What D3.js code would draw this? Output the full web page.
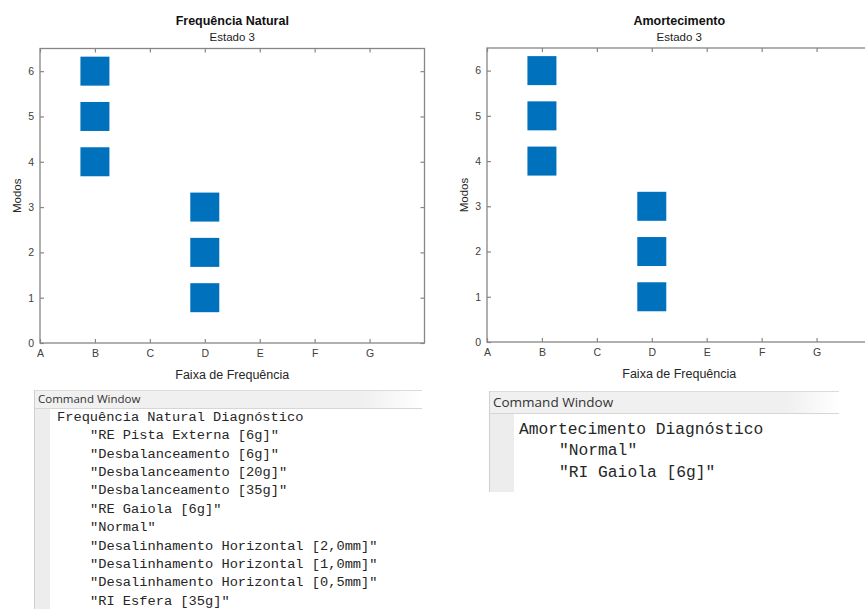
<!DOCTYPE html>
<html>
<head>
<meta charset="utf-8">
<script src="https://cdn.jsdelivr.net/npm/d3@7"></script>
<style>
  html, body { margin: 0; padding: 0; background: #ffffff; }
  svg { display: block; }
</style>
</head>
<body>
<svg id="fig" width="865" height="609"></svg>
<script>
// Frequency bands (x axis) and mode numbers (y axis)
const categories = ["A", "B", "C", "D", "E", "F", "G"];
const modeTicks = [0, 1, 2, 3, 4, 5, 6];
const modes = [1, 2, 3, 4, 5, 6];

// Band in which each mode falls, state 3
const naturalBand = ["D", "D", "D", "B", "B", "B"];
const dampingBand = ["D", "D", "D", "B", "B", "B"];

// Diagnosis listings printed in the command windows
const naturalDiagnosisTitle = "Frequência Natural Diagnóstico";
const naturalDiagnosis = [
  "\"RE Pista Externa [6g]\"",
  "\"Desbalanceamento [6g]\"",
  "\"Desbalanceamento [20g]\"",
  "\"Desbalanceamento [35g]\"",
  "\"RE Gaiola [6g]\"",
  "\"Normal\"",
  "\"Desalinhamento Horizontal [2,0mm]\"",
  "\"Desalinhamento Horizontal [1,0mm]\"",
  "\"Desalinhamento Horizontal [0,5mm]\"",
  "\"RI Esfera [35g]\""
];
const dampingDiagnosisTitle = "Amortecimento Diagnóstico";
const dampingDiagnosis = [
  "\"Normal\"",
  "\"RI Gaiola [6g]\""
];

const svg = d3.select("#fig");
const SANS = "'Liberation Sans', Arial, sans-serif";
const MONO = "'Liberation Mono', 'Courier New', monospace";
const AXIS = "#868686";
const MARK = "#0072BD";
const MARKER = 29;

function drawPanel(opt) {
  const x = d3.scaleLinear().domain([0, categories.length]).range([opt.left, opt.left + opt.width]);
  const y = d3.scaleLinear().domain([0, 6.5]).range([opt.bottom, opt.top]);
  const g = svg.append("g");

  // markers
  g.append("g").selectAll("rect")
    .data(modes.map((m, i) => ({ mode: m, band: opt.bands[i] })))
    .join("rect")
    .attr("x", d => x(categories.indexOf(d.band)) - MARKER / 2)
    .attr("y", d => y(d.mode) - MARKER / 2)
    .attr("width", MARKER)
    .attr("height", MARKER)
    .attr("fill", MARK);

  const idx = d3.range(categories.length);
  const style = sel => {
    sel.select(".domain").remove();
    sel.selectAll(".tick line").attr("stroke", AXIS).attr("stroke-width", 1.2);
    sel.selectAll(".tick text").attr("fill", "#404040").attr("font-family", SANS).attr("font-size", 10.5);
  };

  g.append("g").attr("transform", `translate(0,${opt.bottom})`)
    .call(d3.axisBottom(x).tickValues(idx).tickFormat(i => categories[i]).tickSize(-4).tickPadding(7))
    .call(style);
  g.append("g").attr("transform", `translate(0,${opt.top})`)
    .call(d3.axisTop(x).tickValues(idx).tickFormat("").tickSize(-4))
    .call(style);
  g.append("g").attr("transform", `translate(${opt.left},0)`)
    .call(d3.axisLeft(y).tickValues(modeTicks).tickFormat(d3.format("d")).tickSize(-4).tickPadding(6))
    .call(style);
  g.append("g").attr("transform", `translate(${opt.left + opt.width},0)`)
    .call(d3.axisRight(y).tickValues(modeTicks).tickFormat("").tickSize(-4))
    .call(style);

  // axes box
  g.append("rect")
    .attr("x", opt.left).attr("y", opt.top)
    .attr("width", opt.width).attr("height", opt.bottom - opt.top)
    .attr("fill", "none").attr("stroke", AXIS).attr("stroke-width", 1.3);

  const cx = opt.left + opt.width / 2;
  g.append("text").attr("x", cx).attr("y", 25).attr("text-anchor", "middle")
    .attr("font-family", SANS).attr("font-size", 12.5).attr("font-weight", "bold").attr("fill", "#111")
    .text(opt.title);
  g.append("text").attr("x", cx).attr("y", 41).attr("text-anchor", "middle")
    .attr("font-family", SANS).attr("font-size", 11.5).attr("fill", "#222")
    .text("Estado 3");
  g.append("text").attr("x", cx).attr("y", opt.bottom + 36).attr("text-anchor", "middle")
    .attr("font-family", SANS).attr("font-size", 12.5).attr("fill", "#262626")
    .text("Faixa de Frequência");
  g.append("text")
    .attr("transform", `translate(${opt.left - 19},${(opt.top + opt.bottom) / 2}) rotate(-90)`)
    .attr("text-anchor", "middle")
    .attr("font-family", SANS).attr("font-size", 11.5).attr("fill", "#262626")
    .text("Modos");
}

drawPanel({ left: 40, width: 384.5, top: 48.5, bottom: 343, bands: naturalBand, title: "Frequência Natural" });
drawPanel({ left: 487, width: 384.5, top: 48, bottom: 342, bands: dampingBand, title: "Amortecimento" });

function drawConsole(opt) {
  const g = svg.append("g");
  const grad = "hdr" + opt.id;
  const lg = svg.append("defs").append("linearGradient").attr("id", grad).attr("x1", 0).attr("x2", 1);
  lg.append("stop").attr("offset", "0.85").attr("stop-color", "#f0f0f0");
  lg.append("stop").attr("offset", "1").attr("stop-color", "#ffffff");

  // header bar
  g.append("rect").attr("x", opt.left).attr("y", opt.top)
    .attr("width", opt.width).attr("height", opt.header)
    .attr("fill", `url(#${grad})`);
  g.append("line").attr("x1", opt.left).attr("x2", opt.left + opt.width)
    .attr("y1", opt.top + 0.5).attr("y2", opt.top + 0.5).attr("stroke", "#dcdcdc");
  g.append("line").attr("x1", opt.left).attr("x2", opt.left + opt.width)
    .attr("y1", opt.top + opt.header + 0.5).attr("y2", opt.top + opt.header + 0.5).attr("stroke", "#d6d6d6");
  g.append("text").attr("x", opt.left + 4).attr("y", opt.top + opt.header / 2)
    .attr("dy", "0.35em").attr("font-family", "'Open Sans', 'Noto Sans', sans-serif")
    .attr("font-size", opt.headerFont).attr("fill", "#333")
    .text("Command Window");

  // gutter
  g.append("rect").attr("x", opt.left).attr("y", opt.top + opt.header + 1)
    .attr("width", opt.gutter).attr("height", opt.bottom - opt.top - opt.header - 1)
    .attr("fill", "#ededed");
  g.append("line").attr("x1", opt.left + 0.5).attr("x2", opt.left + 0.5)
    .attr("y1", opt.top).attr("y2", opt.bottom).attr("stroke", "#cfcfcf");

  // listing
  const t = g.append("g").attr("font-family", MONO).attr("font-size", opt.font).attr("fill", "#262626");
  t.append("text").attr("x", opt.textX).attr("y", opt.firstY).attr("dy", "0.35em").text(opt.title);
  t.selectAll(".item").data(opt.items).join("text").attr("class", "item")
    .attr("x", opt.textX + opt.indent)
    .attr("y", (d, i) => opt.firstY + (i + 1) * opt.lineH)
    .attr("dy", "0.35em")
    .text(d => d);
}

drawConsole({ id: 1, left: 34, top: 390, width: 388, header: 18, headerFont: 11.5, bottom: 609, gutter: 16,
  textX: 57, indent: 33, firstY: 416, lineH: 18.4, font: 13.7,
  title: naturalDiagnosisTitle, items: naturalDiagnosis });
drawConsole({ id: 2, left: 489, top: 391, width: 350, header: 22, headerFont: 13.5, bottom: 492, gutter: 25,
  textX: 519, indent: 40, firstY: 428, lineH: 21.5, font: 16.3,
  title: dampingDiagnosisTitle, items: dampingDiagnosis });
</script>
</body>
</html>
